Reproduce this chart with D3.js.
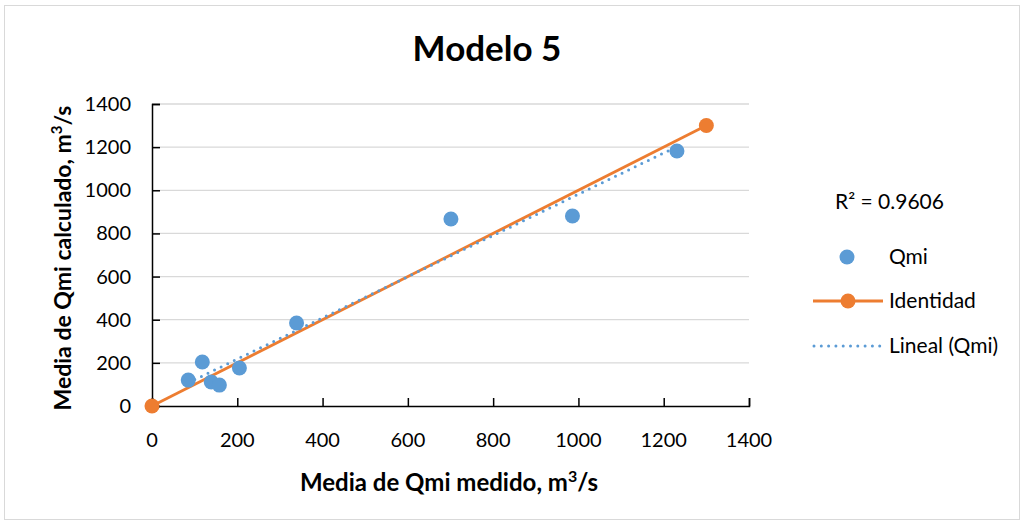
<!DOCTYPE html>
<html>
<head>
<meta charset="utf-8">
<script src="https://cdn.jsdelivr.net/npm/d3@7"></script>
<style>
  body { margin: 0; background: #fff; }
  text { font-family: Lato, "Open Sans", sans-serif; fill: #000; }
</style>
</head>
<body>
<div id="chart"></div>
<script>
// measured vs calculated Qmi (m3/s)
let qmiMedido = [85, 118, 139, 158, 205, 339, 701, 986, 1231];
let qmiCalculado = [120, 204, 111, 97, 176, 385, 867, 881, 1182];
let identidad = [[0, 0], [1300, 1300]];
let xTicks = [0, 200, 400, 600, 800, 1000, 1200, 1400];
let yTicks = [0, 200, 400, 600, 800, 1000, 1200, 1400];
let r2Label = "R² = 0.9606";

let width = 1021;
let height = 522;
let blue = "#5b9bd5";
let orange = "#ed7d31";

let svg = d3.select("#chart")
    .append("svg")
    .attr("width", width)
    .attr("height", height);

// chart border
svg.append("rect")
    .attr("x", 4.5).attr("y", 5.5)
    .attr("width", width - 6).attr("height", height - 8)
    .attr("fill", "#fff")
    .attr("stroke", "#d9d9d9");

let xScale = d3.scaleLinear().domain([0, 1400]).range([152, 749]);
let yScale = d3.scaleLinear().domain([0, 1400]).range([406, 104]);

// gridlines
svg.append("g")
    .selectAll("line")
    .data(yTicks.filter(d => d > 0))
    .enter()
    .append("line")
    .attr("x1", xScale(0)).attr("x2", xScale(1400))
    .attr("y1", d => yScale(d)).attr("y2", d => yScale(d))
    .attr("stroke", "#d9d9d9")
    .attr("stroke-width", 1.3);

// x-axis (ticks inside)
let xAxis = d3.axisTop(xScale).tickValues(xTicks).tickSize(8).tickFormat("");
let gx = svg.append("g")
    .attr("transform", "translate(0," + yScale(0) + ")")
    .call(xAxis);
gx.select(".domain").attr("stroke", "#000").attr("stroke-width", 1.5);
gx.selectAll(".tick line").attr("stroke", "#000").attr("stroke-width", 1.5);

svg.append("g")
    .selectAll("text")
    .data(xTicks)
    .enter()
    .append("text")
    .attr("x", d => xScale(d))
    .attr("y", 447)
    .attr("text-anchor", "middle")
    .attr("font-size", 20)
    .text(d => d);

// y-axis (ticks inside)
let yAxis = d3.axisRight(yScale).tickValues(yTicks).tickSize(8).tickFormat("");
let gy = svg.append("g")
    .attr("transform", "translate(" + xScale(0) + ",0)")
    .call(yAxis);
gy.select(".domain").attr("stroke", "#000").attr("stroke-width", 1.5);
gy.selectAll(".tick line").attr("stroke", "#000").attr("stroke-width", 1.5);

svg.append("g")
    .selectAll("text")
    .data(yTicks)
    .enter()
    .append("text")
    .attr("x", 131)
    .attr("y", d => yScale(d) + 7)
    .attr("text-anchor", "end")
    .attr("font-size", 20)
    .text(d => d);

// title
svg.append("text")
    .attr("x", 487)
    .attr("y", 61)
    .attr("text-anchor", "middle")
    .attr("font-size", 35)
    .attr("font-weight", "bold")
    .text("Modelo 5");

// axis labels
let xLabel = svg.append("text")
    .attr("x", 449)
    .attr("y", 491)
    .attr("text-anchor", "middle")
    .attr("font-size", 24)
    .attr("font-weight", "bold");
xLabel.append("tspan").text("Media de Qmi medido, m");
xLabel.append("tspan").attr("font-size", 16).attr("dy", -9).text("3");
xLabel.append("tspan").attr("dy", 9).text("/s");

let yLabel = svg.append("text")
    .attr("text-anchor", "middle")
    .attr("font-size", 23)
    .attr("font-weight", "bold")
    .attr("transform", "translate(71,258) rotate(-90)");
yLabel.append("tspan").text("Media de Qmi calculado, m");
yLabel.append("tspan").attr("font-size", 15).attr("dy", -9).text("3");
yLabel.append("tspan").attr("dy", 9).text("/s");

// linear trendline (least squares on the Qmi points)
let pts = qmiMedido.map((x, i) => ({ x: x, y: qmiCalculado[i] }));
let mx = d3.mean(pts, d => d.x);
let my = d3.mean(pts, d => d.y);
let slope = d3.sum(pts, d => (d.x - mx) * (d.y - my)) / d3.sum(pts, d => (d.x - mx) * (d.x - mx));
let intercept = my - slope * mx;
let xMin = d3.min(qmiMedido);
let xMax = d3.max(qmiMedido);
let trend = [[xMin, intercept + slope * xMin], [xMax, intercept + slope * xMax]];

let line = d3.line()
    .x(d => xScale(d[0]))
    .y(d => yScale(d[1]));

// identity line
svg.append("path")
    .attr("d", line(identidad))
    .attr("fill", "none")
    .attr("stroke", orange)
    .attr("stroke-width", 2.8);

svg.selectAll(".id-point")
    .data(identidad)
    .enter()
    .append("circle")
    .attr("class", "id-point")
    .attr("cx", d => xScale(d[0]))
    .attr("cy", d => yScale(d[1]))
    .attr("r", 7.5)
    .attr("fill", orange);

// trendline on top of identity
svg.append("path")
    .attr("d", line(trend))
    .attr("fill", "none")
    .attr("stroke", blue)
    .attr("stroke-width", 3)
    .attr("stroke-linecap", "round")
    .attr("stroke-dasharray", "0,7.3");

// data points
svg.selectAll(".data-point")
    .data(pts)
    .enter()
    .append("circle")
    .attr("class", "data-point")
    .attr("cx", d => xScale(d.x))
    .attr("cy", d => yScale(d.y))
    .attr("r", 7.5)
    .attr("fill", blue);

// legend
let legend = svg.append("g");
legend.append("text")
    .attr("x", 835).attr("y", 209)
    .attr("font-size", 21)
    .text(r2Label);

legend.append("circle")
    .attr("cx", 847).attr("cy", 257).attr("r", 7.5)
    .attr("fill", blue);
legend.append("text")
    .attr("x", 889).attr("y", 264)
    .attr("font-size", 21)
    .text("Qmi");

legend.append("line")
    .attr("x1", 813).attr("x2", 883)
    .attr("y1", 301).attr("y2", 301)
    .attr("stroke", orange).attr("stroke-width", 2.8);
legend.append("circle")
    .attr("cx", 848).attr("cy", 301).attr("r", 7.5)
    .attr("fill", orange);
legend.append("text")
    .attr("x", 889).attr("y", 308)
    .attr("font-size", 21)
    .text("Identidad");

legend.append("line")
    .attr("x1", 814).attr("x2", 883)
    .attr("y1", 346).attr("y2", 346)
    .attr("stroke", blue).attr("stroke-width", 3)
    .attr("stroke-linecap", "round")
    .attr("stroke-dasharray", "0,7.3");
legend.append("text")
    .attr("x", 889).attr("y", 353)
    .attr("font-size", 21)
    .text("Lineal (Qmi)");
</script>
</body>
</html>
